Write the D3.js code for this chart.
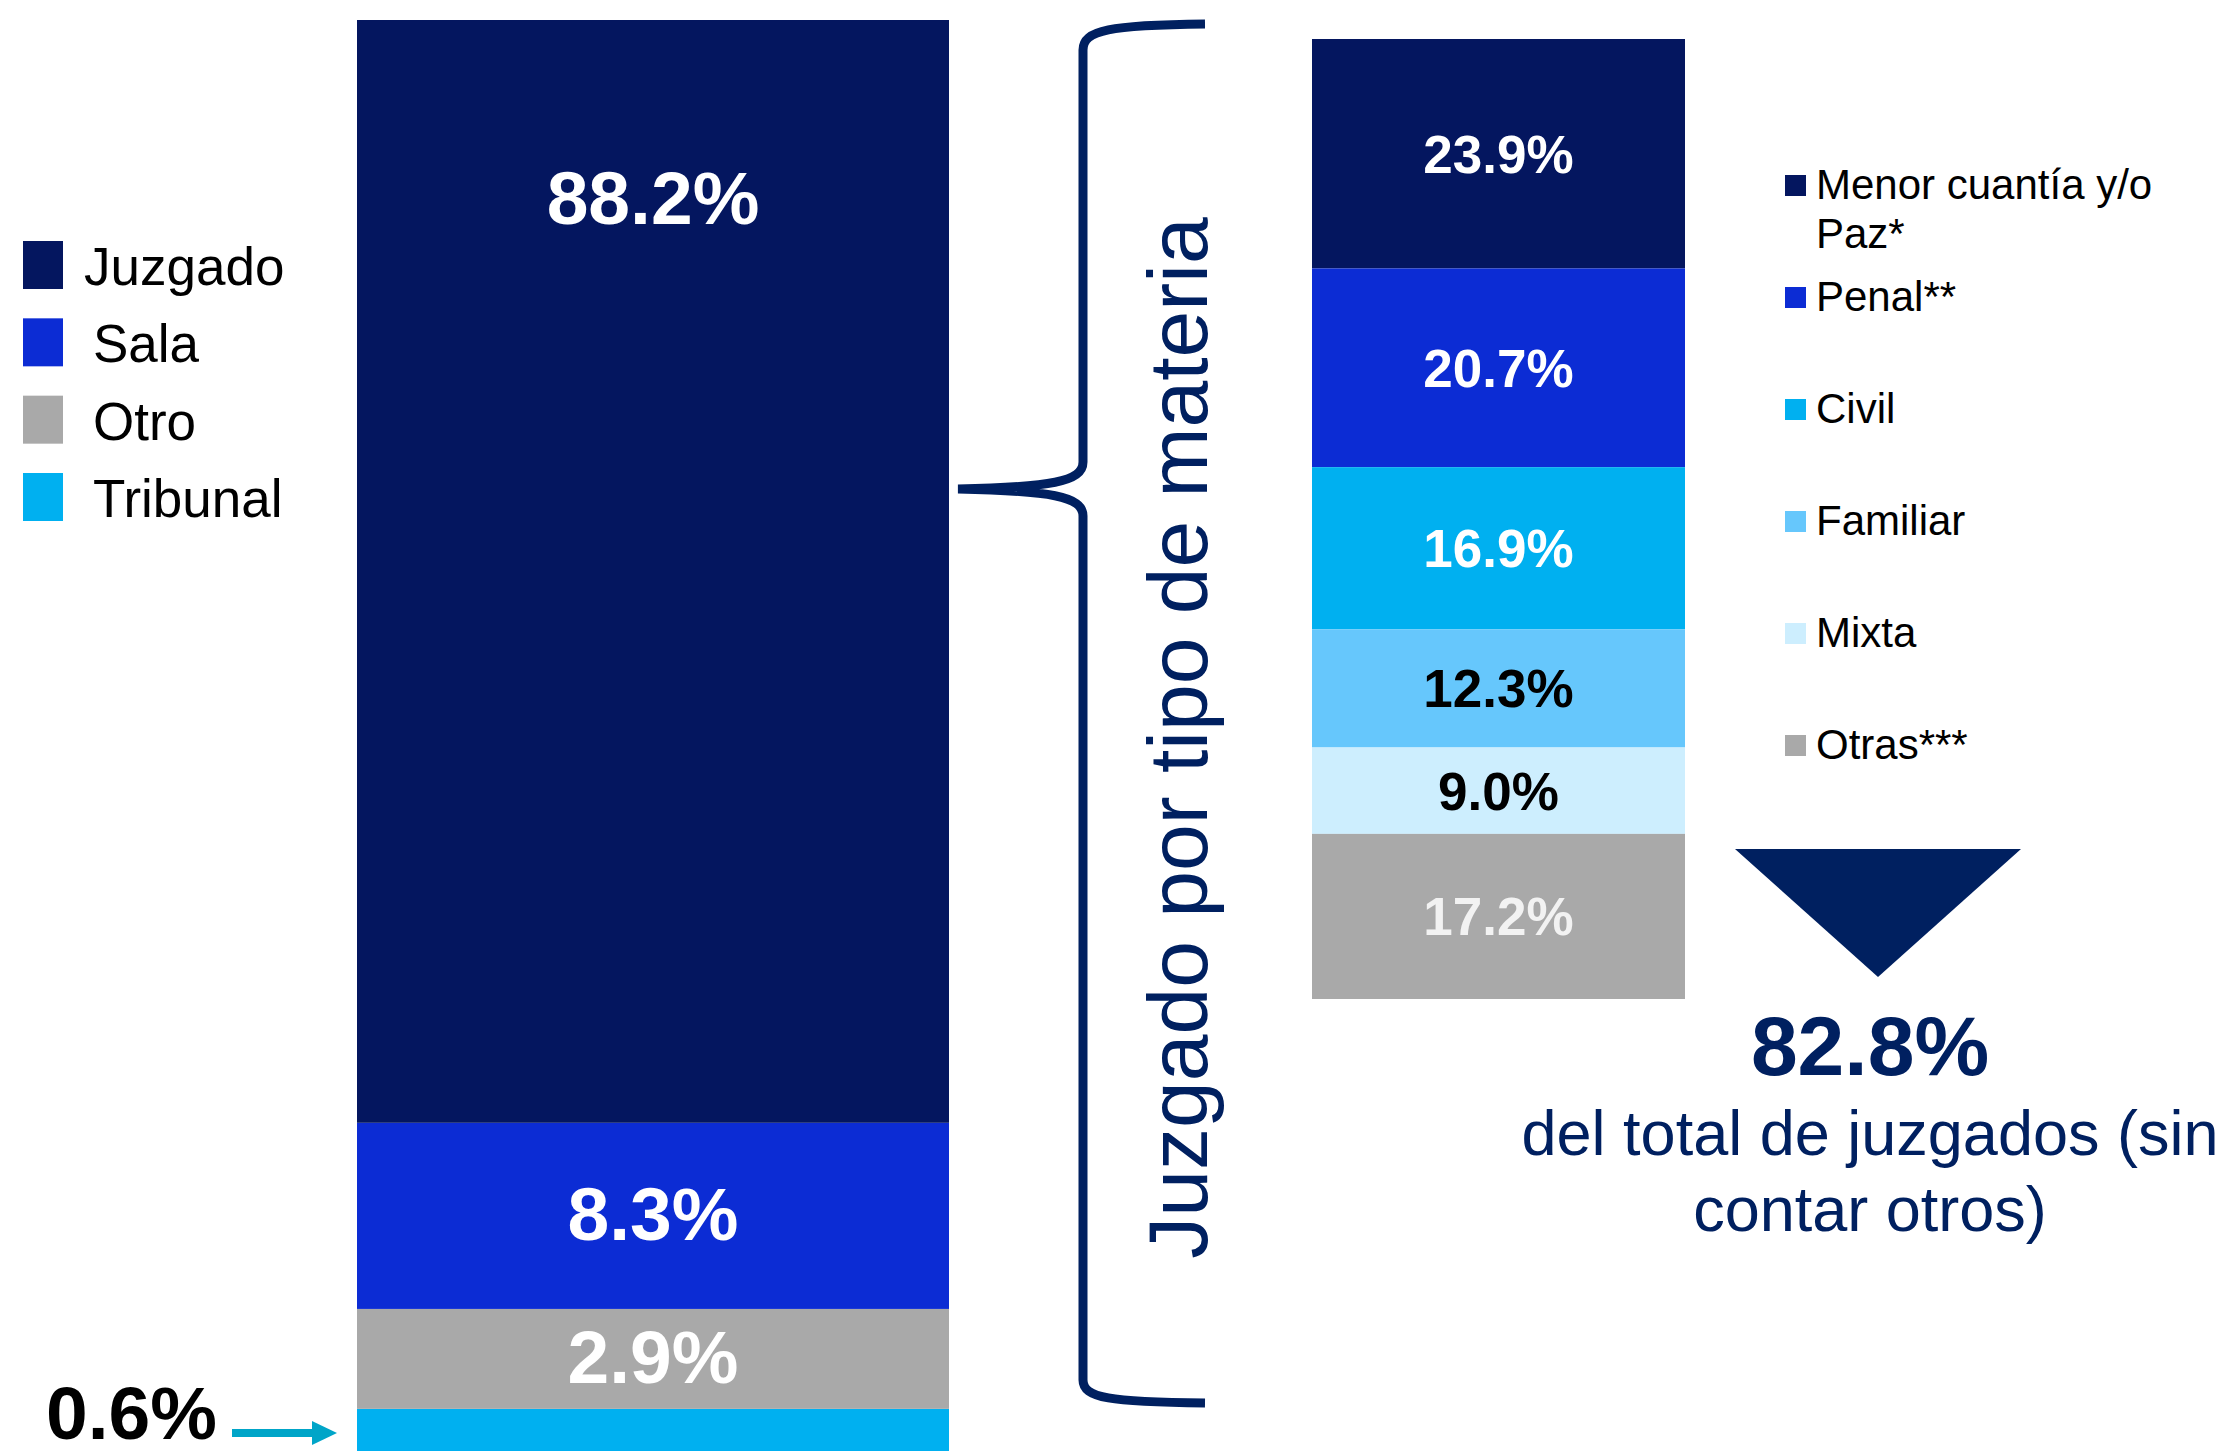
<!DOCTYPE html>
<html>
<head>
<meta charset="utf-8">
<script src="https://cdn.jsdelivr.net/npm/d3@7"></script>
<style>
    body { margin: 0; background: #fff; }
    text { font-family: "Liberation Sans", Arial, sans-serif; }
</style>
</head>
<body>
<div id="chart_div"></div>
<script>

// left bar: tipo de órgano (bottom to top)
var organos = ["Tribunal", "Otro", "Sala", "Juzgado"];
var organoValues = [0.6, 2.9, 8.3, 88.2];
var organoColors = ["#00b0f0", "#a9a9a9", "#0c2cd4", "#04165f"];
var legendOrder = ["Juzgado", "Sala", "Otro", "Tribunal"];

// right bar: juzgado por materia (top to bottom)
var materias = ["Menor cuantía y/o|Paz*", "Penal**", "Civil", "Familiar", "Mixta", "Otras***"];
var materiaValues = [23.9, 20.7, 16.9, 12.3, 9.0, 17.2];
var materiaColors = ["#04165f", "#0c2cd4", "#00b0f0", "#66c7fc", "#cdeefe", "#a9a9a9"];
var materiaLabelColors = ["#ffffff", "#ffffff", "#ffffff", "#000000", "#000000", "#f2f2f2"];

var resumenValue = 82.8;
var resumenText = ["del total de juzgados (sin", "contar otros)"];
var braceText = "Juzgado por tipo de materia";

var navy = "#002060";

var svg = d3.select("#chart_div").append("svg")
    .attr("width", 2239)
    .attr("height", 1451);

// ---- left stacked bar ----
var yLeft = d3.scalePow().exponent(0.689)
    .domain([0, 100])
    .range([1451, 20]);
var xLeft = d3.scaleBand().domain(["total"]).range([357, 949]).padding(0);

var cum = 0;
var leftData = organos.map(function (d, i) {
    var item = {name: d, value: organoValues[i], color: organoColors[i], y0: cum, y1: cum + organoValues[i]};
    cum += organoValues[i];
    return item;
});

var leftGroup = svg.append("g");

leftGroup.selectAll(".seg")
    .data(leftData)
    .enter().append("rect")
    .attr("class", "seg")
    .attr("x", xLeft("total"))
    .attr("width", xLeft.bandwidth())
    .attr("y", function (d) { return yLeft(d.y1); })
    .attr("height", function (d) { return yLeft(d.y0) - yLeft(d.y1); })
    .attr("fill", function (d) { return d.color; });

leftGroup.selectAll(".seglabel")
    .data(leftData.filter(function (d) { return d.value > 1; }))
    .enter().append("text")
    .attr("class", "seglabel")
    .attr("x", xLeft("total") + xLeft.bandwidth() / 2)
    .attr("y", function (d) {
        var top = yLeft(d.y1), bottom = yLeft(d.y0);
        // big segment: label sits near the top
        if (bottom - top > 500) return top + 204;
        return (top + bottom) / 2 + 24;
    })
    .attr("text-anchor", "middle")
    .attr("font-size", 75)
    .attr("font-weight", "bold")
    .attr("fill", "#fff")
    .text(function (d) { return d.value.toFixed(1) + "%"; });

// small segment label with arrow
var small = leftData[0];
var arrowY = (yLeft(small.y0) + yLeft(small.y1)) / 2 + 3;
svg.append("text")
    .attr("x", 217)
    .attr("y", arrowY + 6)
    .attr("text-anchor", "end")
    .attr("font-size", 75)
    .attr("font-weight", "bold")
    .attr("fill", "#000")
    .text(small.value.toFixed(1) + "%");
svg.append("line")
    .attr("x1", 232).attr("x2", 316)
    .attr("y1", arrowY).attr("y2", arrowY)
    .attr("stroke", "#00a5c8")
    .attr("stroke-width", 8);
svg.append("path")
    .attr("d", "M312," + (arrowY - 12) + "L337," + arrowY + "L312," + (arrowY + 12) + "Z")
    .attr("fill", "#00a5c8");

// left legend
var legY = d3.scalePoint().domain(legendOrder).range([265, 497]);
var legend = svg.append("g").selectAll("g")
    .data(legendOrder)
    .enter().append("g");
legend.append("rect")
    .attr("x", 23)
    .attr("y", function (d) { return legY(d) - 24; })
    .attr("width", 40)
    .attr("height", 48)
    .attr("fill", function (d) { return organoColors[organos.indexOf(d)]; });
legend.append("text")
    .attr("x", function (d, i) { return i === 0 ? 84 : 93; })
    .attr("y", function (d) { return legY(d) + 20; })
    .attr("font-size", 53)
    .attr("fill", "#000")
    .text(function (d) { return d; });

// ---- brace + rotated text ----
svg.append("path")
    .attr("d", "M1205,24 C1110,25 1083,30 1083,50 L1083,462 C1083,482 1050,487 958,489"
        + " C1050,491 1083,496 1083,516 L1083,1380 C1083,1398 1110,1402 1205,1403")
    .attr("fill", "none")
    .attr("stroke", navy)
    .attr("stroke-width", 9);

svg.append("text")
    .attr("transform", "translate(1207,738) rotate(-90)")
    .attr("text-anchor", "middle")
    .attr("font-size", 84)
    .attr("fill", navy)
    .text(braceText);

// ---- right stacked bar ----
var yRight = d3.scaleLinear().domain([0, 100]).range([39, 999]);
var xRight = d3.scaleBand().domain(["juzgado"]).range([1312, 1685]).padding(0);

var cum2 = 0;
var rightData = materias.map(function (d, i) {
    var item = {name: d, value: materiaValues[i], color: materiaColors[i],
        labelColor: materiaLabelColors[i], y0: cum2, y1: cum2 + materiaValues[i]};
    cum2 += materiaValues[i];
    return item;
});

var rightGroup = svg.append("g");
rightGroup.selectAll(".seg")
    .data(rightData)
    .enter().append("rect")
    .attr("class", "seg")
    .attr("x", xRight("juzgado"))
    .attr("width", xRight.bandwidth())
    .attr("y", function (d) { return yRight(d.y0); })
    .attr("height", function (d) { return yRight(d.y1) - yRight(d.y0); })
    .attr("fill", function (d) { return d.color; });

rightGroup.selectAll(".seglabel")
    .data(rightData)
    .enter().append("text")
    .attr("class", "seglabel")
    .attr("x", xRight("juzgado") + xRight.bandwidth() / 2)
    .attr("y", function (d) { return (yRight(d.y0) + yRight(d.y1)) / 2 + 19; })
    .attr("text-anchor", "middle")
    .attr("font-size", 53)
    .attr("font-weight", "bold")
    .attr("fill", function (d) { return d.labelColor; })
    .text(function (d) { return d.value.toFixed(1) + "%"; });

// right legend
var legY2 = d3.scalePoint().domain(materias).range([185, 745]);
var legend2 = svg.append("g").selectAll("g")
    .data(rightData)
    .enter().append("g");
legend2.append("rect")
    .attr("x", 1785)
    .attr("y", function (d) { return legY2(d.name) - 10; })
    .attr("width", 21)
    .attr("height", 21)
    .attr("fill", function (d) { return d.color; });
legend2.append("text")
    .attr("font-size", 42)
    .attr("fill", "#000")
    .selectAll("tspan")
    .data(function (d) {
        return d.name.split("|").map(function (t, i) { return {t: t, i: i, y: legY2(d.name)}; });
    })
    .enter().append("tspan")
    .attr("x", 1816)
    .attr("y", function (d) { return d.y + 14 + d.i * 49; })
    .text(function (d) { return d.t; });

// ---- summary triangle ----
svg.append("path")
    .attr("d", "M1735,849 L2021,849 L1878,977 Z")
    .attr("fill", navy);

svg.append("text")
    .attr("x", 1870)
    .attr("y", 1075)
    .attr("text-anchor", "middle")
    .attr("font-size", 84)
    .attr("font-weight", "bold")
    .attr("fill", navy)
    .text(resumenValue.toFixed(1) + "%");

svg.append("g").selectAll("text")
    .data(resumenText)
    .enter().append("text")
    .attr("x", 1870)
    .attr("y", function (d, i) { return 1155 + i * 76; })
    .attr("text-anchor", "middle")
    .attr("font-size", 63)
    .attr("fill", navy)
    .text(function (d) { return d; });

</script>
</body>
</html>
